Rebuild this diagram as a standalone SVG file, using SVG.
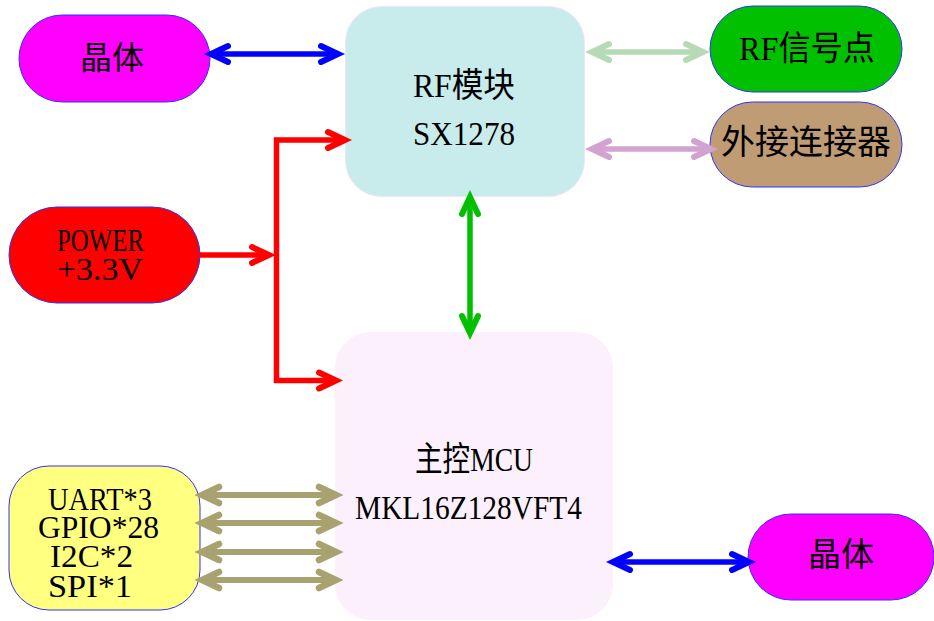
<svg xmlns="http://www.w3.org/2000/svg" width="934" height="621" viewBox="0 0 934 621">
<style>
text{font-family:"Liberation Serif","Noto Sans CJK SC",serif;font-size:34px;fill:#000}
.pill{stroke:#3030ff;stroke-width:1}
.ln{fill:none;stroke-linecap:butt}
.c{text-anchor:middle}
.tight{font-size:31px}
</style>
<defs>
<marker id="aBlue" markerUnits="userSpaceOnUse" viewBox="-25 -12 40 24" markerWidth="40" markerHeight="24" refX="0" refY="0" orient="auto-start-reverse" overflow="visible"><path d="M-17,-8 L0,0 L-17,8" fill="none" stroke="#0000ff" stroke-width="6" stroke-linecap="round"/></marker>
<marker id="aLG" markerUnits="userSpaceOnUse" viewBox="-25 -12 40 24" markerWidth="40" markerHeight="24" refX="0" refY="0" orient="auto-start-reverse" overflow="visible"><path d="M-17,-8 L0,0 L-17,8" fill="none" stroke="#b6dab6" stroke-width="6" stroke-linecap="round"/></marker>
<marker id="aPink" markerUnits="userSpaceOnUse" viewBox="-25 -12 40 24" markerWidth="40" markerHeight="24" refX="0" refY="0" orient="auto-start-reverse" overflow="visible"><path d="M-17,-8 L0,0 L-17,8" fill="none" stroke="#d2a2d0" stroke-width="6" stroke-linecap="round"/></marker>
<marker id="aRed" markerUnits="userSpaceOnUse" viewBox="-25 -12 40 24" markerWidth="40" markerHeight="24" refX="0" refY="0" orient="auto-start-reverse" overflow="visible"><path d="M-17,-8 L0,0 L-17,8" fill="none" stroke="#ff0000" stroke-width="6" stroke-linecap="round"/></marker>
<marker id="aGreen" markerUnits="userSpaceOnUse" viewBox="-25 -12 40 24" markerWidth="40" markerHeight="24" refX="0" refY="0" orient="auto-start-reverse" overflow="visible"><path d="M-17,-8 L0,0 L-17,8" fill="none" stroke="#00c000" stroke-width="6" stroke-linecap="round"/></marker>
<marker id="aOlive" markerUnits="userSpaceOnUse" viewBox="-25 -12 40 24" markerWidth="40" markerHeight="24" refX="0" refY="0" orient="auto-start-reverse" overflow="visible"><path d="M-17,-8 L0,0 L-17,8" fill="none" stroke="#a8a270" stroke-width="6.5" stroke-linecap="round"/></marker>
</defs>

<g id="crystal-top">
<rect class="pill" x="19" y="15" width="191" height="87" rx="43.5" fill="#ff00ff"/>
<text class="c" x="112" y="69" style="font-size:32px">晶体</text>
</g>
<g id="rf-module">
<rect x="345.5" y="6.5" width="239" height="190" rx="36" fill="#c8ebeb" stroke="#f2e4fa" stroke-width="1"/>
<text x="413" y="97" textLength="102" lengthAdjust="spacingAndGlyphs">RF模块</text>
<text x="413" y="145" textLength="102" lengthAdjust="spacingAndGlyphs">SX1278</text>
</g>
<g id="rf-signal">
<rect class="pill" x="710" y="6" width="192" height="86" rx="43" fill="#00c000"/>
<text x="739" y="60" textLength="136" lengthAdjust="spacingAndGlyphs">RF信号点</text>
</g>
<g id="ext-connector">
<rect class="pill" x="710" y="102" width="192" height="85" rx="42.5" fill="#c09c74"/>
<text class="c" x="806" y="154">外接连接器</text>
</g>
<g id="power">
<rect class="pill" x="9" y="207" width="191" height="96" rx="48" fill="#ff0000"/>
<text class="tight" x="57" y="251" textLength="87" lengthAdjust="spacingAndGlyphs">POWER</text>
<text class="tight" x="57" y="280" textLength="86" lengthAdjust="spacingAndGlyphs">+3.3V</text>
</g>
<g id="io">
<rect class="pill" x="9" y="466" width="191" height="144" rx="40" fill="#ffff80"/>
<text class="tight" x="48" y="510" textLength="104" lengthAdjust="spacingAndGlyphs">UART*3</text>
<text class="tight" x="38" y="538" textLength="121" lengthAdjust="spacingAndGlyphs">GPIO*28</text>
<text class="tight" x="50" y="567" textLength="83" lengthAdjust="spacingAndGlyphs">I2C*2</text>
<text class="tight" x="48" y="597" textLength="84" lengthAdjust="spacingAndGlyphs">SPI*1</text>
</g>
<g id="mcu">
<rect x="335" y="332" width="278" height="288" rx="36" fill="#fcf0fc"/>
<text x="415" y="471" textLength="118" lengthAdjust="spacingAndGlyphs">主控MCU</text>
<text x="355" y="519" textLength="227" lengthAdjust="spacingAndGlyphs">MKL16Z128VFT4</text>
</g>
<g id="crystal-bottom">
<rect class="pill" x="748" y="514" width="186" height="86" rx="43" fill="#ff00ff"/>
<text class="c" x="841" y="566" style="font-size:33px">晶体</text>
</g>

<g id="connectors" class="ln">
<path d="M211,54 H338" stroke="#0000ff" stroke-width="5.5" marker-start="url(#aBlue)" marker-end="url(#aBlue)"/>
<path d="M592,52 H703" stroke="#b6dab6" stroke-width="5.5" marker-start="url(#aLG)" marker-end="url(#aLG)"/>
<path d="M592,149 H711" stroke="#d2a2d0" stroke-width="5.5" marker-start="url(#aPink)" marker-end="url(#aPink)"/>
<path d="M200,255 H269" stroke="#ff0000" stroke-width="5.5" marker-end="url(#aRed)"/>
<path d="M345,140 H276.5 V380.5 H336" stroke="#ff0000" stroke-width="5.5" marker-start="url(#aRed)" marker-end="url(#aRed)"/>
<path d="M470,197 V333" stroke="#00c000" stroke-width="5.5" marker-start="url(#aGreen)" marker-end="url(#aGreen)"/>
<path d="M202,495 H336" stroke="#a8a270" stroke-width="6" marker-start="url(#aOlive)" marker-end="url(#aOlive)"/>
<path d="M202,523 H336" stroke="#a8a270" stroke-width="6" marker-start="url(#aOlive)" marker-end="url(#aOlive)"/>
<path d="M202,552 H336" stroke="#a8a270" stroke-width="6" marker-start="url(#aOlive)" marker-end="url(#aOlive)"/>
<path d="M202,580 H336" stroke="#a8a270" stroke-width="6" marker-start="url(#aOlive)" marker-end="url(#aOlive)"/>
<path d="M613,562 H749" stroke="#0000ff" stroke-width="5.5" marker-start="url(#aBlue)" marker-end="url(#aBlue)"/>
</g>
</svg>
